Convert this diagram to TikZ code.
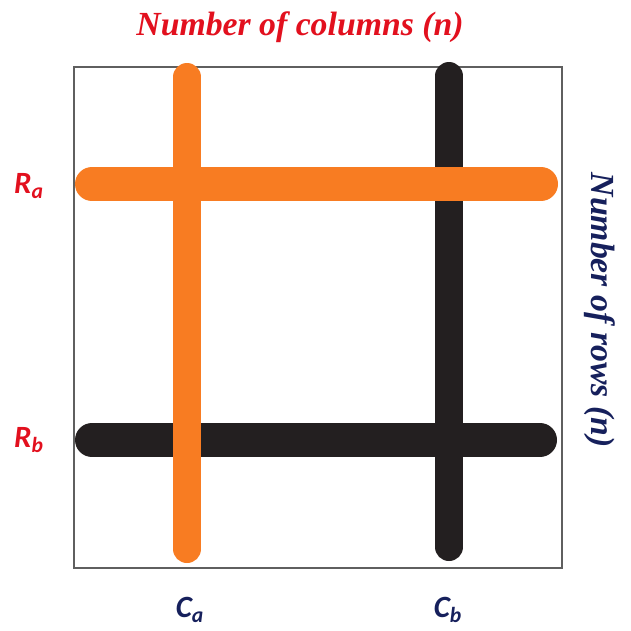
\documentclass[tikz,border=0pt]{standalone}
\usepackage{fontspec}
\setmainfont{Liberation Serif}
\setsansfont{Carlito}
\usetikzlibrary{positioning}

\definecolor{barorange}{RGB}{248,124,34}
\definecolor{barblack}{RGB}{35,31,32}
\definecolor{titlered}{RGB}{226,16,30}
\definecolor{labnavy}{RGB}{22,32,92}
\definecolor{framegray}{RGB}{95,95,95}

\begin{document}
\begin{tikzpicture}[
    x=0.025cm, y=-0.025cm,
    hbar/.style={line width=34*0.025cm, line cap=round},
    vbar/.style={line width=28*0.025cm, line cap=round},
    title/.style={font=\bfseries\itshape\fontsize{24}{28}\selectfont},
    lab/.style={font=\sffamily\bfseries\itshape\fontsize{22}{24}\selectfont}
]
\useasboundingbox (0,0) rectangle (631,631);

% frame
\draw[framegray, line width=2.2*0.025cm] (74,67) rectangle (562,568);

% end points of the bars
\coordinate (ra-w) at (92,184);
\coordinate (ra-e) at (541,184);
\coordinate (rb-w) at (92,440);
\coordinate (rb-e) at (540,440);
\coordinate (ca-n) at (187,77);
\coordinate (ca-s) at (187,549);
\coordinate (cb-n) at (449,76);
\coordinate (cb-s) at (449,547);

% black row and column first, orange ones above
\draw[hbar, barblack] (rb-w) -- (rb-e);
\draw[vbar, barblack] (cb-n) -- (cb-s);
\draw[vbar, barorange] (ca-n) -- (ca-s);
\draw[hbar, barorange] (ra-w) -- (ra-e);

% labels
\node[title, titlered] (cols) at (300,27) {Number of columns (n)};
\node[title, labnavy, rotate=-90] (rows) at (600,310) {Number of rows (n)};
\node[lab, titlered] (ra) at (29,186) {R\textsubscript{a}};
\node[lab, titlered] (rb) at (29,440) {R\textsubscript{b}};
\node[lab, labnavy] (ca) at (190,610) {C\textsubscript{a}};
\node[lab, labnavy] (cb) at (448,610) {C\textsubscript{b}};
\end{tikzpicture}
\end{document}
